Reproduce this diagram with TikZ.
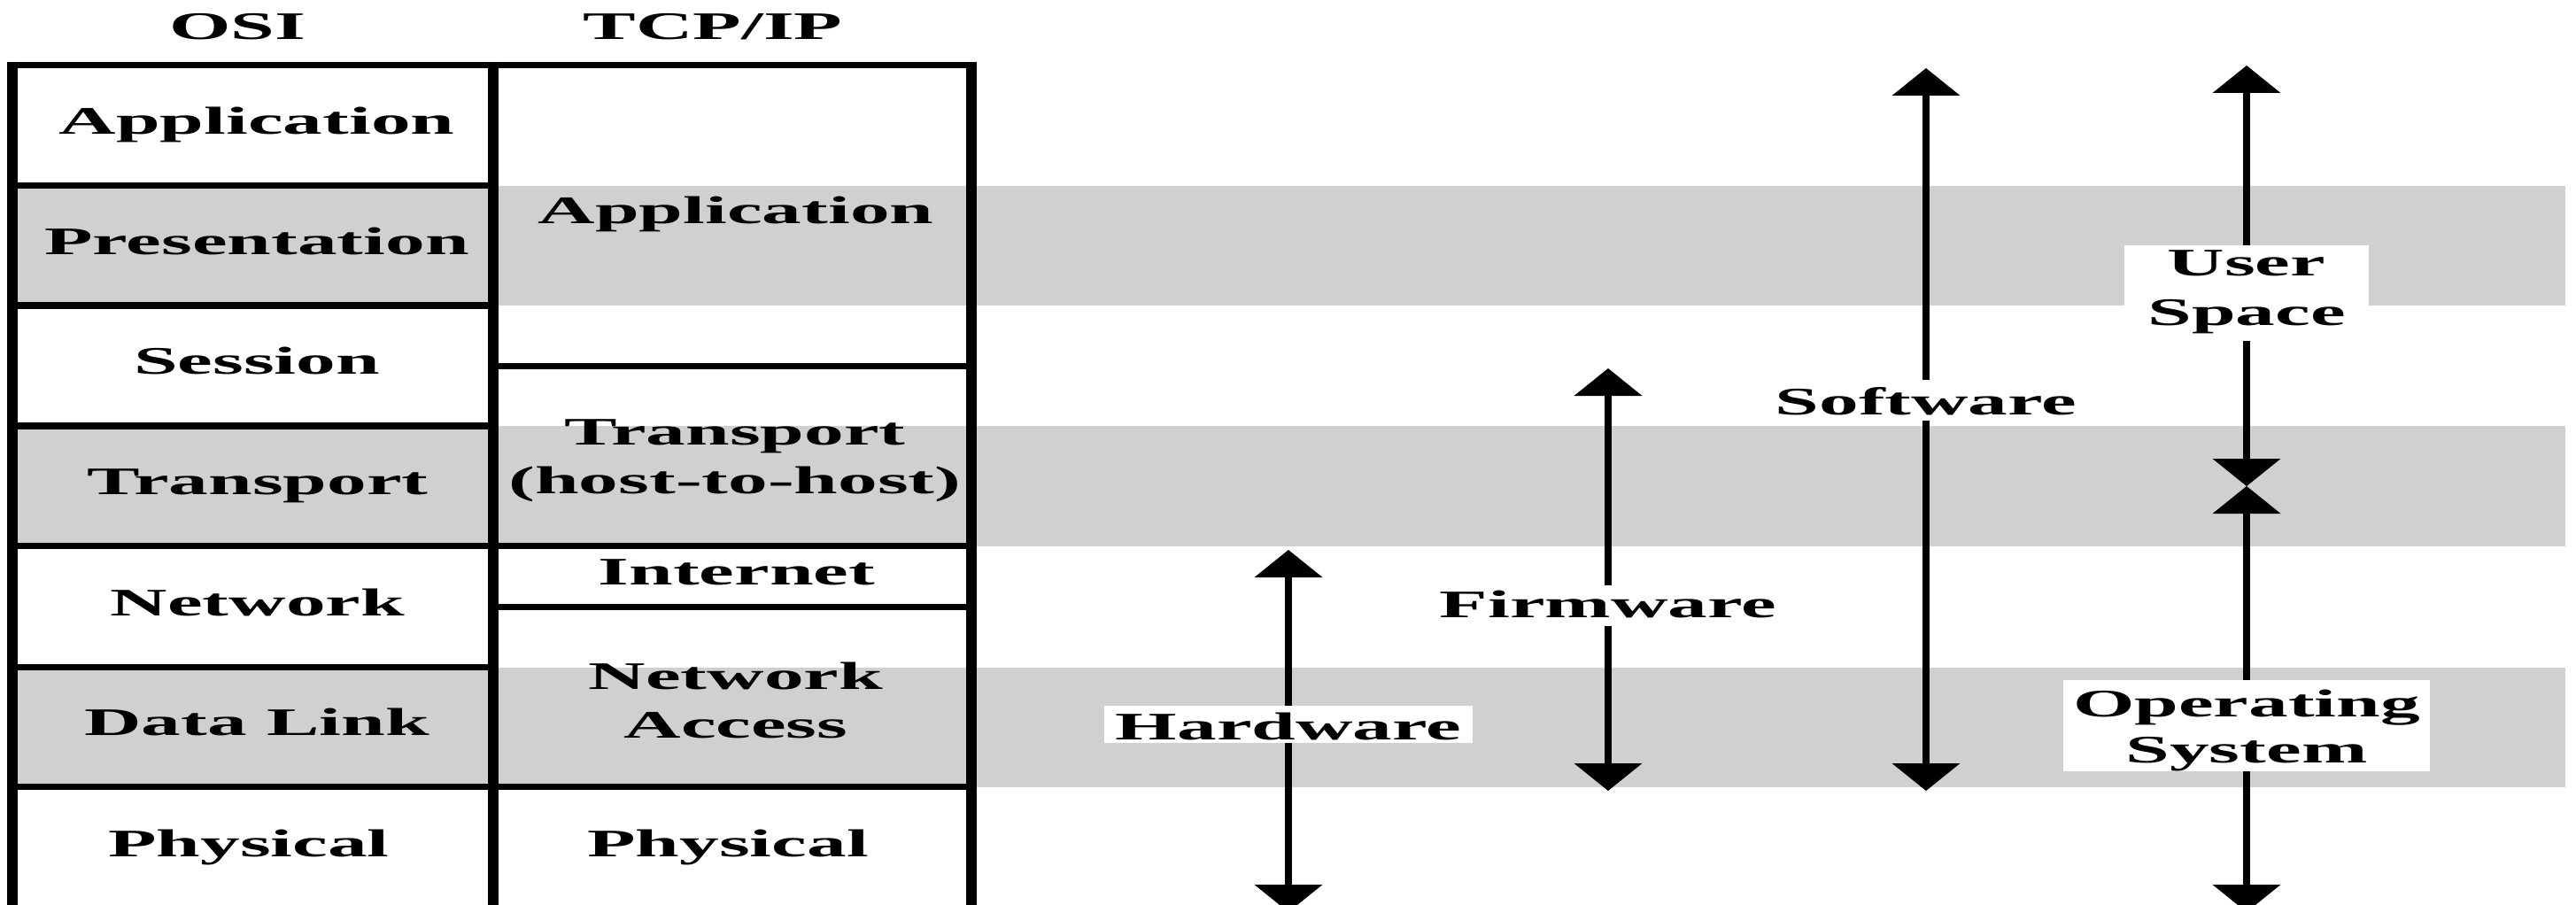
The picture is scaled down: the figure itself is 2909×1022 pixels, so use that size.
\documentclass[tikz,border=0pt]{standalone}
\usepackage{fontspec}
\setmainfont{Liberation Serif}[FakeStretch=2.03]
\usetikzlibrary{arrows.meta}
\definecolor{band}{RGB}{208,208,208}
\newcommand\labsize[1]{\bfseries\fontsize{44pt}{#1}\selectfont}
\begin{document}
\begin{tikzpicture}[x=1pt,y=-1pt,
  cell/.style={font=\labsize{55pt}, inner sep=0pt, anchor=base},
  celltwo/.style={font=\labsize{55pt}, inner sep=0pt, anchor=north, align=center},
  tag/.style={font=\labsize{55pt}, fill=white, inner xsep=13pt, inner ysep=0pt, anchor=north, align=center},
  vline/.style={line width=12pt},
  hline/.style={line width=7.5pt},
  arr/.style={line width=7.3pt, -{Triangle[width=77pt,length=31pt,line width=0pt]}},
]
\useasboundingbox (0,0) rectangle (2909,1022);
\fill[white] (0,0) rectangle (2909,1022);

% titles
\node[cell] (tosi) at (268,45) {OSI};
\node[cell] (ttcp) at (805,45) {TCP/IP};

% grey bands
\fill[band] (14,209.5) rectangle (2897,345);
\fill[band] (14,481) rectangle (2897,616.5);
\fill[band] (14,753.5) rectangle (2897,888.5);

% table rules
\draw[vline] (14,69.75) -- (14,1040);
\draw[vline] (557,69.75) -- (557,1040);
\draw[vline] (1097,69.75) -- (1097,1040);
\draw[hline] (8,73.5) -- (1103,73.5);
\foreach \y in {209.5,345,481,753.5} \draw[hline] (14,\y) -- (557,\y);
\foreach \y in {616.5,888.5} \draw[hline] (14,\y) -- (1097,\y);
\foreach \y in {413.5,685.5} \draw[hline] (557,\y) -- (1097,\y);

% OSI column
\node[cell] (oapp) at (290,151) {Application};
\node[cell] (opre) at (290,287) {Presentation};
\node[cell] (oses) at (290,422) {Session};
\node[cell] (otra) at (291,558) {Transport};
\node[cell] (onet) at (291,695) {Network};
\node[cell] (odat) at (290,830) {Data Link};
\node[cell] (ophy) at (281,967) {Physical};

% TCP/IP column
\node[cell] (tapp) at (831,252) {Application};
\node[celltwo] (ttra) at (830,462) {\rule{0pt}{40pt}Transport\\(host-to-host)};
\node[cell] (tint) at (832,660) {Internet};
\node[celltwo] (tnet) at (831,738) {\rule{0pt}{40pt}Network\\Access};
\node[cell] (tphy) at (822,967) {Physical};

% labels on arrows
\node[tag] (hw) at (1455,797) {\rule[-4pt]{0pt}{42pt}Hardware};
\node[tag] (fw) at (1816,661) {\rule[-10pt]{0pt}{46pt}Firmware};
\node[tag] (sw) at (2175,429) {\rule[-7pt]{0pt}{46pt}Software};
\node[tag, inner xsep=26pt, font=\labsize{56pt}] (us) at (2537,277) {\rule{0pt}{34pt}User\\Space\rule[-18pt]{0pt}{18pt}};
\node[tag, inner xsep=11pt, font=\labsize{52pt}] (os) at (2537,768) {\rule{0pt}{41pt}Operating\\System\rule[-9pt]{0pt}{9pt}};

% arrow ends
\coordinate (hwt) at (1455,621);
\coordinate (hwb) at (1455,1030);
\coordinate (fwt) at (1816,416);
\coordinate (fwb) at (1816,893);
\coordinate (swt) at (2175,77);
\coordinate (swb) at (2175,893);
\coordinate (ust) at (2537,74);
\coordinate (usb) at (2537,549);
\coordinate (ost) at (2537,549);
\coordinate (osb) at (2537,1030);

\draw[arr] (hw) -- (hwt);
\draw[arr] (hw) -- (hwb);
\draw[arr] (fw) -- (fwt);
\draw[arr] (fw) -- (fwb);
\draw[arr] (sw) -- (swt);
\draw[arr] (sw) -- (swb);
\draw[arr] (us) -- (ust);
\draw[arr] (us) -- (usb);
\draw[arr] (os) -- (ost);
\draw[arr] (os) -- (osb);
\end{tikzpicture}
\end{document}
